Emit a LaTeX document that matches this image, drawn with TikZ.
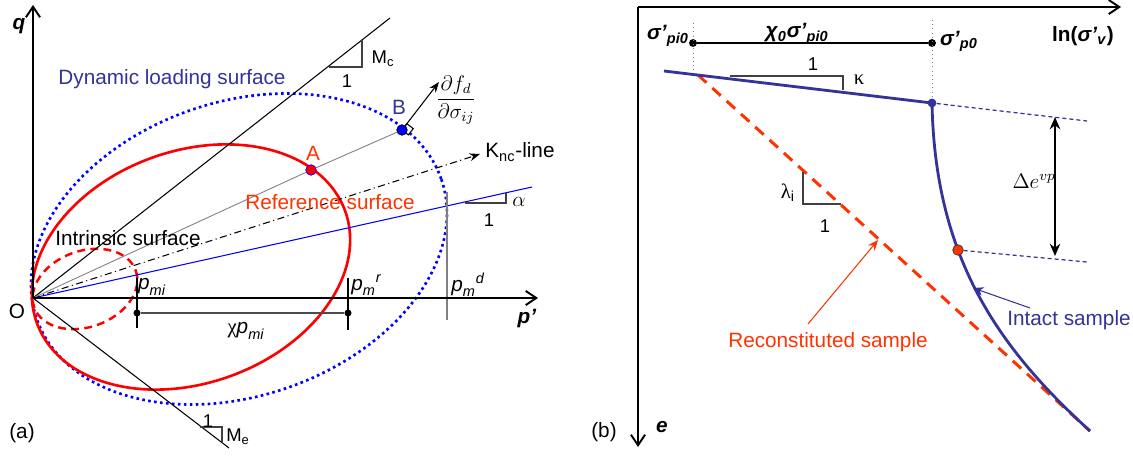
\documentclass[tikz,border=0pt]{standalone}
\usepackage{amsmath}
\usepackage{fontspec}
\setmainfont{Liberation Sans}
\newfontfamily\greekserif{Liberation Serif}
\usepackage{xcolor}
\usepackage{tikz}
\usetikzlibrary{arrows.meta,positioning}
\definecolor{navy}{RGB}{51,51,153}
\definecolor{orangered}{RGB}{255,51,0}

\begin{document}
\begin{tikzpicture}[
    x=0.02cm, y=-0.02cm,
    lbl/.style={font=\fontsize{11.8}{14}\selectfont, inner sep=0pt},
    small lbl/.style={font=\fontsize{10.5}{12}\selectfont, inner sep=0pt},
    axisline/.style={-{Straight Barb[length=6pt,width=8pt]}, line width=1.1pt},
    thinline/.style={line width=0.6pt},
    dot/.style={circle, fill, inner sep=0pt, minimum size=4pt},
    dynsurf/.style={blue, line width=1.5pt, dash pattern=on 1.5pt off 1.9pt},
    refsurf/.style={red, line width=1.5pt},
    intsurf/.style={red, line width=1.4pt, dash pattern=on 4.5pt off 3pt},
    curve/.style={navy, line width=1.6pt},
    recline/.style={orangered, line width=1.7pt, dash pattern=on 6.5pt off 4.5pt},
    guide/.style={navy, line width=0.7pt, dash pattern=on 2.3pt off 1.7pt}
]
\useasboundingbox (0,0) rectangle (1133,456);

% ---------- (a) q-p' plane ----------
\coordinate (O) at (33,298);
\coordinate (dynC) at (239,249);
\coordinate (refC) at (191,267);
\coordinate (intC) at (85,289);

% Surfaces
\draw[dynsurf] (dynC) ellipse [x radius=214, y radius=147, rotate=19];
\draw[refsurf] (refC) ellipse [x radius=164, y radius=116, rotate=20];
\draw[intsurf] (intC) ellipse [x radius=54, y radius=38, rotate=20];

% Lines through the origin
\coordinate (mcEnd) at (390,18);
\coordinate (meEnd) at (229,448);
\coordinate (alphaEnd) at (532,187);
\coordinate (kncTip) at (480,154);
\draw[thinline] (O) -- (mcEnd);
\draw[thinline] (O) -- (meEnd);
\draw[thinline, blue] (O) -- (alphaEnd);
\draw[thinline, dash pattern=on 4pt off 2pt on 0.6pt off 2pt, -{Stealth[length=6pt,width=4.5pt]}] (O) -- (kncTip);

% Slope triangles
\draw[thinline, black!75] (329,67) -- (362,67) -- (362,40);
\draw[thinline, black!75] (200,427) -- (222,427) -- (222,442);
\draw[thinline, black!75] (465,203) -- (506,203) -- (506,193);

% Points A and B, normal at B
\node[dot, minimum size=6pt, fill=red, draw=blue, thin] (Adot) at (311,170) {};
\coordinate (gradTip) at (439,82);
\draw[thinline, fill=white] (402,130) -- ++(4.9,-6.3) -- ++(6.3,4.9) -- ++(-4.9,6.3) -- cycle;
\node[dot, minimum size=6pt, fill=blue, draw=black, thin] (Bdot) at (402,130) {};
\draw[line width=0.5pt, gray] (O) -- (Adot) -- (Bdot);
\draw[thinline, -{Stealth[length=6pt,width=4.5pt]}] (Bdot) -- (gradTip);

% Projections on p' axis
\draw[thinline] (137,278) -- (137,328);
\draw[thinline] (348,278) -- (348,330);
\draw[thinline, gray] (447,192) -- (447,320);
\node[dot] (pmiDot) at (137,313) {};
\node[dot] (pmrDot) at (348,313) {};
\draw[thinline, black!70] (pmiDot) -- (pmrDot);

% Axes
\coordinate (qTip) at (33,5);
\coordinate (pTip) at (538,298);
\draw[axisline] (O) -- (qTip);
\draw[axisline] (O) -- (pTip);

% Labels
\node[lbl] (qLbl) at (19,26) {\textbf{\textit{q}}};
\node[lbl] (pLbl) at (527,319) {\textbf{\textit{p’}}};
\node[lbl] (oLbl) at (17,311) {O};
\node[lbl] (aLbl) at (22,433) {(a)};
\node[lbl, text=navy] (dynLbl) at (172,79) {Dynamic loading surface};
\node[lbl, text=orangered] (refLbl) at (330,202) {Reference surface};
\node[lbl] (intLbl) at (128,238) {Intrinsic surface};
\node[lbl, text=orangered] (ptA) at (313,153) {A};
\node[lbl, text=navy] (ptB) at (399,107) {B};
\node[lbl, anchor=west] (kncLbl) at (485,152) {K$_{\text{nc}}$-line};
\node[lbl] (gradLbl) at (456,100) {$\dfrac{\partial f_d}{\partial\sigma_{ij}}$};
\node[small lbl] (mcLbl) at (383,59) {M$_{\text{c}}$};
\node[small lbl] (mcOne) at (347,81) {1};
\node[small lbl] (meLbl) at (238,437) {M$_{\text{e}}$};
\node[small lbl] (meOne) at (208,421) {1};
\node[lbl] (alphaLbl) at (519,202) {$\alpha$};
\node[small lbl] (alphaOne) at (489,220) {1};
\node[lbl] (pmiLbl) at (152,287) {$\textit{p}_{\textit{mi}}$};
\node[lbl, anchor=west] (pmrLbl) at (351,285) {$\textit{p}_{\textit{m}}{}^{\textit{r}}$};
\node[lbl, anchor=west] (pmdLbl) at (451,285) {$\textit{p}_{\textit{m}}{}^{\textit{d}}$};
\node[lbl] (chiLbl) at (246,331) {{\greekserif χ}$\textit{p}_{\textit{mi}}$};

% ---------- (b) e-ln(sigma'v) plane ----------
\coordinate (corner) at (638,7);
\coordinate (hTip) at (1121,7);
\coordinate (vTip) at (638,447);
\draw[axisline] (corner) -- (hTip);
\draw[axisline] (corner) -- (vTip);

% Preconsolidation stresses
\node[dot, minimum size=4.5pt] (spi) at (693,43) {};
\node[dot, minimum size=4.5pt] (sp) at (932,43) {};
\draw[thinline] (spi) -- (sp);
\draw[line width=0.4pt, gray, dotted] (693,23) -- (693,70);
\draw[line width=0.4pt, gray, dotted] (932,20) -- (932,103);

% Compression curves
\coordinate (kapStart) at (664,71);
\coordinate (recStart) at (698,75);
\coordinate (recEnd) at (1090,431);
\coordinate (icEnd) at (1090,431);
\draw[recline] (recStart) -- (recEnd);
\draw[curve] (kapStart) -- (932,103);
\draw[curve] (932,103) .. controls (935,260) and (1000,349) .. (icEnd) coordinate[pos=0.363] (yld);
\node[dot, minimum size=5pt, fill=navy] (kapDot) at (932,103) {};
\node[dot, minimum size=6pt, fill=orangered, draw=black!80, thin] (yldDot) at (yld) {};

% Guides and Delta e
\coordinate (g1) at (1087,121);
\coordinate (g2) at (1087,262);
\draw[guide] (kapDot) -- (g1);
\draw[guide] (yldDot) -- (g2);
\coordinate (dTop) at (1055,117);
\coordinate (dBot) at (1055,256);
\draw[line width=0.8pt, {Stealth[length=7pt,width=6pt]}-{Stealth[length=7pt,width=6pt]}] (dTop) -- (dBot);

% Slope triangles
\draw[thinline, black!75] (730,76) -- (843,76) -- (843,90);
\draw[thinline, black!75] (803,172) -- (803,204) -- (841,204);

% Sample pointers
\coordinate (recTail) at (808,324);
\coordinate (recHead) at (878,240);
\coordinate (intTail) at (1030,308);
\coordinate (intHead) at (973,288);
\draw[line width=0.6pt, orangered, -{Stealth[length=6pt,width=5pt]}] (recTail) -- (recHead);
\draw[line width=0.6pt, navy, -{Stealth[length=6pt,width=5pt]}] (intTail) -- (intHead);

% Labels
\node[lbl] (spiLbl) at (668,36) {\textbf{\textit{σ’}}$_{\textbf{\textit{pi0}}}$};
\node[lbl] (chiZero) at (797,34) {\textbf{\textit{χ}}$_{\textbf{\textit{0}}}$\textbf{\textit{σ’}}$_{\textbf{\textit{pi0}}}$};
\node[lbl] (spLbl) at (959,41) {\textbf{\textit{σ’}}$_{\textbf{\textit{p0}}}$};
\node[lbl] (lnLbl) at (1083,36) {\textbf{ln(\textit{σ’}$_{\textbf{\textit{v}}}$)}};
\node[lbl] (eLbl) at (662,427) {\textbf{\textit{e}}};
\node[lbl] (bLbl) at (604,432) {(b)};
\node[small lbl] (kapOne) at (813,64) {1};
\node[lbl] (kapLbl) at (859,80) {{\greekserif κ}};
\node[lbl] (lamLbl) at (788,193) {{\greekserif λ}$_{\text{i}}$};
\node[small lbl] (lamOne) at (825,226) {1};
\node[lbl] (deLbl) at (1034,181) {$\Delta e^{vp}$};
\node[lbl, text=orangered] (recLbl) at (828,342) {Reconstituted sample};
\node[lbl, text=navy] (intactLbl) at (1069,320) {Intact sample};
\end{tikzpicture}
\end{document}
